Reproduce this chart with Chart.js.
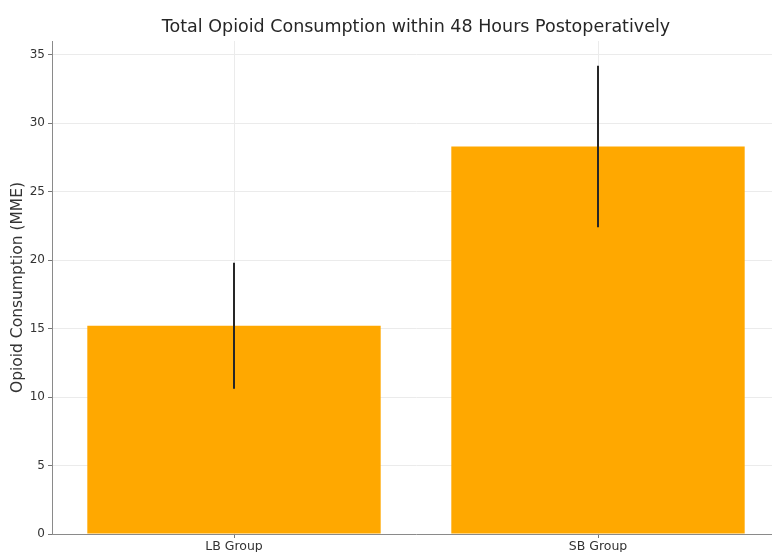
<!DOCTYPE html>
<html>
<head>
<meta charset="utf-8">
<style>
  html, body { margin: 0; padding: 0; background: #ffffff; overflow: hidden; }
  #wrap { width: 780px; height: 552px; }
</style>
<script src="https://cdn.jsdelivr.net/npm/chart.js@4/dist/chart.umd.min.js"></script>
</head>
<body>
<div id="wrap"><canvas id="chart" width="780" height="552"></canvas></div>
<script>
// Groups compared and their mean opioid use (MME) with standard deviation
const groups = ['LB Group', 'SB Group'];
const meanMME = [15.2, 28.3];
const sdMME = [4.6, 5.9];
const yTicks = [0, 5, 10, 15, 20, 25, 30, 35];
const yMax = 36;

const FONT = 'DejaVu Sans';

// Vertical error bars (mean ± SD) drawn through the chart's own scales
const errorBars = {
  id: 'errorBars',
  afterDatasetsDraw(chart) {
    const { ctx, scales: { x, y } } = chart;
    ctx.save();
    ctx.strokeStyle = '#262626';
    ctx.lineWidth = 2;
    meanMME.forEach((m, i) => {
      const px = Math.round(x.getPixelForValue(i));
      ctx.beginPath();
      ctx.moveTo(px, y.getPixelForValue(m - sdMME[i]));
      ctx.lineTo(px, y.getPixelForValue(m + sdMME[i]));
      ctx.stroke();
    });
    ctx.restore();
  }
};

new Chart(document.getElementById('chart'), {
  type: 'bar',
  data: {
    labels: groups,
    datasets: [{
      data: meanMME,
      backgroundColor: '#FFA800',
      borderWidth: 0,
      categoryPercentage: 1,
      barPercentage: 0.806
    }]
  },
  options: {
    responsive: false,
    animation: false,
    layout: { padding: 0 },
    plugins: {
      legend: { display: false },
      tooltip: { enabled: false },
      title: {
        display: true,
        text: 'Total Opioid Consumption within 48 Hours Postoperatively',
        fullSize: false,
        color: '#262626',
        font: { family: FONT, size: 17.5, weight: 'normal' },
        padding: { top: 17, bottom: 3 }
      }
    },
    scales: {
      x: {
        offset: true,
        grid: { offset: false, color: '#ebebeb', tickColor: '#777', tickLength: 4, drawOnChartArea: true },
        border: { color: '#8a8a8a', width: 1 },
        ticks: { color: '#333', font: { family: FONT, size: 12.5 }, padding: 1, maxRotation: 0 },
        afterFit(scale) { scale.height = 18; }
      },
      y: {
        min: 0,
        max: yMax,
        afterBuildTicks(scale) { scale.ticks = yTicks.map(v => ({ value: v })); },
        grid: { color: '#ebebeb', tickColor: '#777', tickLength: 4 },
        border: { color: '#8a8a8a', width: 1 },
        ticks: { color: '#333', font: { family: FONT, size: 12 }, padding: 3 },
        title: {
          display: true,
          text: 'Opioid Consumption (MME)',
          color: '#333',
          font: { family: FONT, size: 15.5 },
          padding: { top: 9, bottom: 0 }
        },
        afterFit(scale) { scale.width = 52; }
      }
    }
  },
  plugins: [errorBars]
});
</script>
</body>
</html>
